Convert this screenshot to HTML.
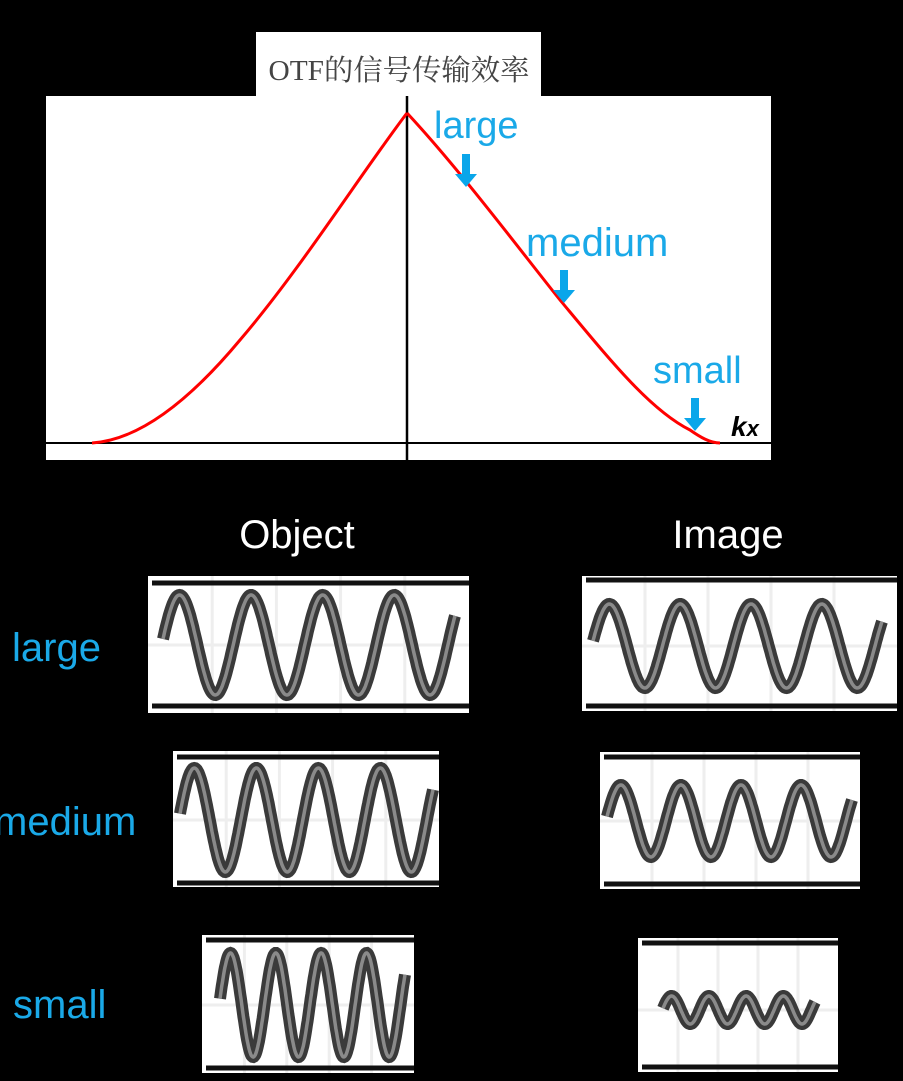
<!DOCTYPE html>
<html><head><meta charset="utf-8">
<style>
html,body{margin:0;padding:0;background:#000;}
svg{display:block;}
.c{font-family:"Liberation Sans","DejaVu Sans",sans-serif;fill:#1aa9e8;}
.w{font-family:"Liberation Sans","DejaVu Sans",sans-serif;fill:#fff;}
</style></head>
<body>
<svg id="s" width="903" height="1081" viewBox="0 0 903 1081" xmlns="http://www.w3.org/2000/svg">
<rect width="903" height="1081" fill="#000"/>
<rect x="256" y="32" width="285" height="70" fill="#fff"/>
<rect x="46" y="96" width="725" height="364" fill="#fff"/>
<text x="399" y="80" text-anchor="middle" font-family="'Liberation Serif','Noto Serif CJK SC',serif" font-size="29" fill="#444" textLength="261" lengthAdjust="spacingAndGlyphs">OTF的信号传输效率</text>
<line x1="46" y1="443" x2="771" y2="443" stroke="#000" stroke-width="2"/>
<line x1="407" y1="96" x2="407" y2="460" stroke="#000" stroke-width="2.5"/>
<path d="M92,443 C140,440 190,400 240,340 C300,270 360,175 407,113" fill="none" stroke="#f00" stroke-width="3"/>
<path d="M407,113 C460,170 520,250 560,300 C610,360 650,410 690,430 C700,437 710,443 720,443" fill="none" stroke="#f00" stroke-width="3"/>
<text class="c" x="434" y="138" font-size="38">large</text>
<text class="c" x="526" y="256" font-size="40">medium</text>
<text class="c" x="653" y="383" font-size="38">small</text>
<g fill="#0aa6ea">
<path d="M462,154h8v20h7l-11,13l-11,-13h7z"/>
<path d="M560,270h8v20h7l-11,13l-11,-13h7z"/>
<path d="M691,398h8v20h7l-11,13l-11,-13h7z"/>
</g>
<text x="731" y="436" font-family="'Liberation Sans',sans-serif" font-weight="bold" font-style="italic" font-size="28" fill="#000">k<tspan font-size="22">x</tspan></text>
<text class="w" x="297" y="548" text-anchor="middle" font-size="40">Object</text>
<text class="w" x="728" y="548" text-anchor="middle" font-size="40">Image</text>
<text class="c" x="12" y="661" font-size="40">large</text>
<text class="c" x="-6" y="835" font-size="40">medium</text>
<text class="c" x="13" y="1018" font-size="40">small</text>
<g id="panels"></g>
</svg>
<script>
var P=[
 [148,576,321,137,583,706,163,455,645,50],
 [582,576,315,135,580,706,593,882,646,42],
 [173,751,266,136,757,883,180,433,820,52],
 [600,752,260,137,757,884,607,852,821,36],
 [202,935,212,138,940,1068,220,405,1005,52],
 [638,938,200,134,943,1067,663,815,1010,14]
];
var g=document.getElementById('panels'),h="";
P.forEach(function(p){
 var x=p[0],y=p[1],w=p[2],H=p[3];
 h+='<rect x="'+x+'" y="'+y+'" width="'+w+'" height="'+H+'" fill="#fff"/>';
 for(var i=1;i<5;i++){var gx=x+w*i/5;h+='<line x1="'+gx+'" y1="'+y+'" x2="'+gx+'" y2="'+(y+H)+'" stroke="#eee" stroke-width="3"/>';}
 h+='<line x1="'+x+'" y1="'+p[8]+'" x2="'+(x+w)+'" y2="'+p[8]+'" stroke="#eee" stroke-width="3"/>';
 h+='<line x1="'+(x+4)+'" y1="'+p[4]+'" x2="'+(x+w)+'" y2="'+p[4]+'" stroke="#111" stroke-width="5"/>';
 h+='<line x1="'+(x+4)+'" y1="'+p[5]+'" x2="'+(x+w)+'" y2="'+p[5]+'" stroke="#111" stroke-width="5"/>';
 var d="",x0=p[6],x1=p[7],cy=p[8],A=p[9],ph0=-0.35,ph1=4*2*Math.PI+0.15;
 for(var k=0;k<=300;k++){var t=k/300,ph=ph0+(ph1-ph0)*t,xx=x0+(x1-x0)*t,yy=cy-A*Math.sin(ph+Math.PI*0.15);d+=(k?"L":"M")+xx.toFixed(1)+","+yy.toFixed(1);}
 h+='<path d="'+d+'" fill="none" stroke="#3a3a3a" stroke-width="12"/>';
 h+='<path d="'+d+'" fill="none" stroke="#8a8a8a" stroke-width="3.5"/>';
});
g.innerHTML=h;
</script>
</body></html>
